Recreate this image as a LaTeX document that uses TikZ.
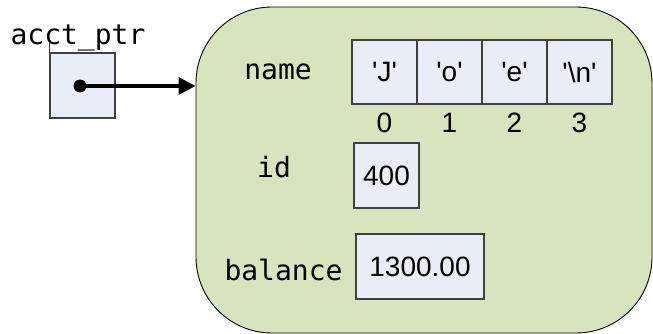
\documentclass[tikz,border=0pt]{standalone}
\usepackage{fontspec}
\setmainfont{Liberation Sans}
\newfontfamily\codefont{DejaVu Sans Mono}
\usetikzlibrary{arrows.meta}

\definecolor{cellblue}{HTML}{E8EDF8}
\definecolor{structgreen}{HTML}{D7E4BD}
\tikzset{
  cell/.style={draw=black!75,fill=cellblue,line width=1.1pt,minimum width=65pt,minimum height=64pt,inner sep=0pt,font=\fontsize{28}{30}\selectfont},
  field/.style={font=\codefont\fontsize{28}{30}\selectfont,anchor=base},
  index/.style={font=\fontsize{28}{30}\selectfont,anchor=base}
}

\begin{document}
\begin{tikzpicture}[x=1pt,y=-1pt]
  \useasboundingbox (0,0) rectangle (653,334);

  % the struct
  \node[draw=black,fill=structgreen,line width=0.9pt,rounded corners=76pt,
        minimum width=456pt,minimum height=326pt,inner sep=0pt] (acct) at (424,170) {};

  % the pointer
  \node[field] (ptrlabel) at (78,45) {acct\_ptr};
  \node[cell,minimum height=65pt] (ptr) at (82.5,85.5) {};
  \draw[line width=0.9pt,black!75] (ptr.north west) -- ++(0,-10);
  \fill (80,86) circle (6.5pt) coordinate (dot);
  \draw[line width=3.4pt,-{Triangle[length=17pt,width=17pt]}] (dot) -- (dot -| acct.west);

  % name[]
  \node[field] (namelabel) at (278,80) {name};
  \foreach \ch [count=\i from 0] in {J,o,e,\textbackslash n} {
    \node[cell] (c\i) at (384.5+65*\i,72) {\textquotesingle\ch\textquotesingle};
    \node[index] (i\i) at (384.5+65*\i,133) {\i};
  }

  % id
  \node[field] (idlabel) at (274,177) {id};
  \node[cell,minimum height=65pt] (idval) at (386.5,175.5) {400};

  % balance
  \node[field] (ballabel) at (283.5,280) {balance};
  \node[cell,minimum width=128pt,minimum height=65pt] (balval) at (420,266.5) {1300.00};
\end{tikzpicture}
\end{document}
